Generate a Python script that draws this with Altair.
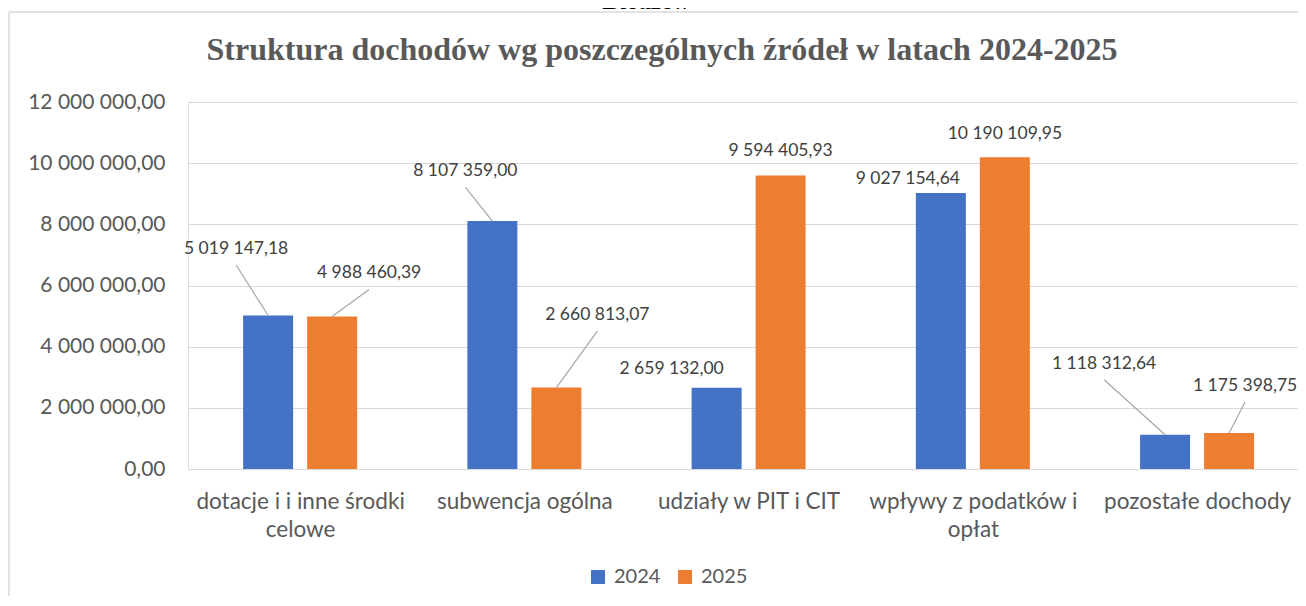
import json
import altair as alt
import pandas as pd

# ---------------- data ----------------
CATEGORIES = [
    "dotacje i i inne środki\ncelowe",
    "subwencja ogólna",
    "udziały w PIT i CIT",
    "wpływy z podatków i\nopłat",
    "pozostałe dochody",
]
YEARS = ["2024", "2025"]
VALUES_2024 = [5019147.18, 8107359.00, 2659132.00, 9027154.64, 1118312.64]
VALUES_2025 = [4988460.39, 2660813.07, 9594405.93, 10190109.95, 1175398.75]
Y_TICKS = [0, 2000000, 4000000, 6000000, 8000000, 10000000, 12000000]
Y_TICK_LABELS = ["0,00", "2 000 000,00", "4 000 000,00", "6 000 000,00",
                 "8 000 000,00", "10 000 000,00", "12 000 000,00"]
TITLE = "Struktura dochodów wg poszczególnych źródeł w latach 2024-2025"
CLIPPED_HEADER = "Bledzew"

# ---------------- style / layout ----------------
W, H = 1110, 367
PAD = {"left": 180, "top": 94, "right": 0, "bottom": 127}
X_DOMAIN = [-0.5, 4.45]
Y_DOMAIN = [0, 12000000]
PXU = W / (X_DOMAIN[1] - X_DOMAIN[0])      # px per category unit
PYU = H / (Y_DOMAIN[1] - Y_DOMAIN[0])      # px per value unit
BAR_SHIFT_PX = 32
BAR_HALF_W_PX = 25
COLORS = ["#4472C4", "#ED7D31"]
TEXT_GREY = "#595959"
LABEL_GREY = "#404040"
GRID = "#d9d9d9"
FONT = "Lato"
# data-label callout offsets (px from bar-top centre to label centre) and leader flag
LABEL_OFFSETS = {
    "2024": [(-32, -66.5, True), (-27, -50, True), (-45, -19, False), (-33, -13.5, False), (-61, -71, True)],
    "2025": [(37, -43, True), (41, -72.6, True), (0, -24.6, False), (0, -23, False), (16, -47, True)],
}
LEADER_GAP_PX = 16


def fmt(v):
    return f"{v:,.2f}".replace(",", " ").replace(".", ",")


rows = []
for j, (year, vals) in enumerate(zip(YEARS, [VALUES_2024, VALUES_2025])):
    sign = -1 if j == 0 else 1
    for i, v in enumerate(vals):
        xc = i + sign * BAR_SHIFT_PX / PXU
        dx, dy, lead = LABEL_OFFSETS[year][i]
        rows.append({
            "year": year,
            "value": v,
            "x0": xc - BAR_HALF_W_PX / PXU,
            "x1": xc + BAR_HALF_W_PX / PXU,
            "xc": xc,
            "lx": xc + dx / PXU,
            "ly": v - dy / PYU,
            "leadx": xc + dx / PXU,
            "leady": v - (dy + LEADER_GAP_PX) / PYU,
            "lead": lead,
            "label": fmt(v),
        })
df = pd.DataFrame(rows)

cat_lines = [c.split("\n") for c in CATEGORIES]
x_label_expr = json.dumps(cat_lines, ensure_ascii=False) + "[round(datum.value)]"
y_label_expr = json.dumps(Y_TICK_LABELS, ensure_ascii=False) + "[round(datum.value / 2000000)]"

x_scale = alt.Scale(domain=X_DOMAIN, nice=False, zero=False)
y_scale = alt.Scale(domain=Y_DOMAIN, nice=False)

base = alt.Chart(df)

bars = base.mark_rect().encode(
    x=alt.X("x0:Q", scale=x_scale, axis=alt.Axis(
        values=[0, 1, 2, 3, 4], labelExpr=x_label_expr, title=None, grid=False,
        ticks=False, domain=False, labelFont=FONT, labelFontSize=22.5,
        labelColor=TEXT_GREY, labelPadding=21, labelLineHeight=28,
        labelOverlap=False, labelBound=False, labelFlush=False,
        labelLimit=0, labelBaseline="top")),
    x2="x1:Q",
    y=alt.Y("value:Q", scale=y_scale, axis=alt.Axis(
        values=Y_TICKS, labelExpr=y_label_expr, title=None, grid=True,
        gridColor=GRID, gridWidth=1.2, ticks=False, domain=False,
        labelFont=FONT, labelFontSize=21, labelColor=TEXT_GREY,
        labelPadding=23, labelLimit=0)),
    y2=alt.datum(0),
    color=alt.Color("year:N", scale=alt.Scale(domain=YEARS, range=COLORS),
                    legend=alt.Legend(
                        title=None, orient="none", legendX=400, legendY=465,
                        direction="horizontal", symbolType="square",
                        symbolSize=196, symbolStrokeWidth=0,
                        labelFont=FONT, labelFontSize=20, labelColor=TEXT_GREY,
                        labelOffset=6, columnPadding=14, padding=0)),
)

leaders = base.transform_filter("datum.lead").mark_rule(
    color="#a6a6a6", strokeWidth=1.2).encode(
    x=alt.X("xc:Q", scale=x_scale),
    y=alt.Y("value:Q", scale=y_scale),
    x2="leadx:Q",
    y2="leady:Q",
)

labels = base.mark_text(font=FONT, fontSize=17.5, color=LABEL_GREY,
                        align="center", baseline="middle").encode(
    x=alt.X("lx:Q", scale=x_scale),
    y=alt.Y("ly:Q", scale=y_scale),
    text="label:N",
)

one = alt.Chart(pd.DataFrame({"k": [0]}))
frame_left = one.mark_rule(color=GRID, strokeWidth=1.5).encode(
    x=alt.value(-179), y=alt.value(-90), y2=alt.value(H + 200))
frame_top = one.mark_rule(color=GRID, strokeWidth=1.5).encode(
    x=alt.value(-179), x2=alt.value(W + 20), y=alt.value(-90))
header = one.mark_text(font="Liberation Serif", fontSize=26, fontWeight="bold",
                       fontStyle="italic", color="#000000", align="center",
                       baseline="alphabetic").encode(
    x=alt.value(459), y=alt.value(-93), text=alt.value(CLIPPED_HEADER))
title = one.mark_text(font="Liberation Serif", fontSize=32, fontWeight="bold",
                      color=TEXT_GREY, align="center",
                      baseline="alphabetic").encode(
    x=alt.value(474), y=alt.value(-42), text=alt.value(TITLE))

chart = alt.layer(frame_left, frame_top, header, title, bars, leaders, labels).properties(
    width=W, height=H, padding=PAD,
    autosize=alt.AutoSizeParams(type="none"),
).configure_view(stroke=None).configure(background="white")

chart.save("out.html", embed_options={"renderer": "svg", "actions": False})
